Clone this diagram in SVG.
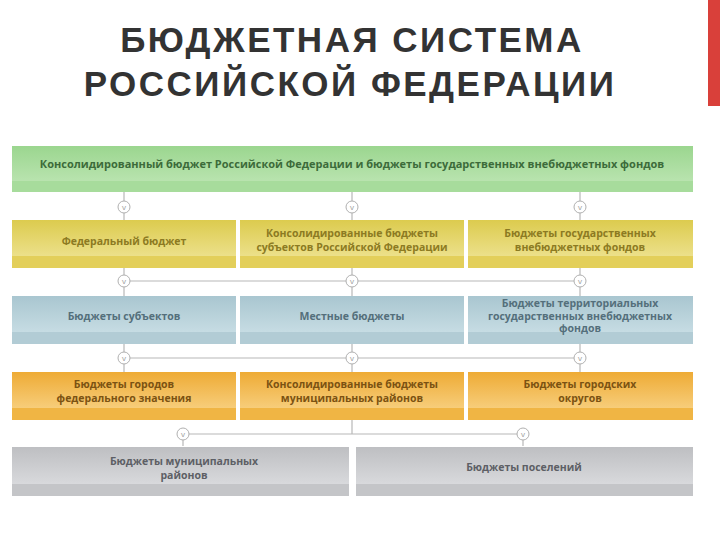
<svg xmlns="http://www.w3.org/2000/svg" width="720" height="540" viewBox="0 0 720 540">
<defs>
<linearGradient id="gG" x1="0" y1="0" x2="0" y2="1"><stop offset="0" stop-color="#9bd68f"/><stop offset="0.75" stop-color="#b8e3ae"/><stop offset="0.76" stop-color="#a7dc9c"/><stop offset="1" stop-color="#a7dc9c"/></linearGradient>
<linearGradient id="gY" x1="0" y1="0" x2="0" y2="1"><stop offset="0" stop-color="#dccb4e"/><stop offset="0.75" stop-color="#ece08a"/><stop offset="0.76" stop-color="#e3cf5a"/><stop offset="1" stop-color="#e3cf5a"/></linearGradient>
<linearGradient id="gB" x1="0" y1="0" x2="0" y2="1"><stop offset="0" stop-color="#a9c6d0"/><stop offset="0.75" stop-color="#c6dce3"/><stop offset="0.76" stop-color="#b2ccd5"/><stop offset="1" stop-color="#b2ccd5"/></linearGradient>
<linearGradient id="gO" x1="0" y1="0" x2="0" y2="1"><stop offset="0" stop-color="#eeab35"/><stop offset="0.75" stop-color="#f7cd7a"/><stop offset="0.76" stop-color="#f0b544"/><stop offset="1" stop-color="#f0b544"/></linearGradient>
<linearGradient id="gR" x1="0" y1="0" x2="0" y2="1"><stop offset="0" stop-color="#bebfc2"/><stop offset="0.75" stop-color="#d8d9dc"/><stop offset="0.76" stop-color="#c4c5c8"/><stop offset="1" stop-color="#c4c5c8"/></linearGradient>
</defs>
<style>
text{font-family:"Open Sans","DejaVu Sans",sans-serif;font-weight:bold;font-size:10.5px;text-anchor:middle}
.t{font-family:"Liberation Sans",Arial,sans-serif;font-size:35px;fill:#333;letter-spacing:2.5px}
.g{fill:#3c6b3a;font-size:11px}.y{fill:#8c7a22}.b{fill:#546f7b}.o{fill:#7b5212}.r{fill:#5d5f65}
.c{fill:#fff;stroke:#b0b0b0;stroke-width:1}
.ct{font-size:8px;fill:#999;font-weight:normal}
line{stroke:#b8b8b8;stroke-width:1.2}
</style>
<rect x="708" y="0" width="12" height="106" fill="#d9403a"/>
<text class="t" x="352" y="52">БЮДЖЕТНАЯ СИСТЕМА</text>
<text class="t" x="350" y="96">РОССИЙСКОЙ ФЕДЕРАЦИИ</text>
<g id="connectors">
<line x1="124" y1="192" x2="124" y2="220"/><line x1="352" y1="192" x2="352" y2="220"/><line x1="580" y1="192" x2="580" y2="220"/>
<line x1="124" y1="268" x2="124" y2="296"/><line x1="352" y1="268" x2="352" y2="296"/><line x1="580" y1="268" x2="580" y2="296"/><line x1="124" y1="281" x2="580" y2="281"/>
<line x1="124" y1="344" x2="124" y2="372"/><line x1="352" y1="344" x2="352" y2="372"/><line x1="580" y1="344" x2="580" y2="372"/><line x1="124" y1="358" x2="580" y2="358"/>
<line x1="352" y1="420" x2="352" y2="434"/><line x1="183" y1="434" x2="523" y2="434"/><line x1="183" y1="434" x2="183" y2="446"/><line x1="523" y1="434" x2="523" y2="446"/>
<g id="circles">
<circle class="c" cx="124" cy="207" r="6"/><circle class="c" cx="352" cy="207" r="6"/><circle class="c" cx="580" cy="207" r="6"/>
<circle class="c" cx="124" cy="281" r="6"/><circle class="c" cx="352" cy="281" r="6"/><circle class="c" cx="580" cy="281" r="6"/>
<circle class="c" cx="124" cy="358" r="6"/><circle class="c" cx="352" cy="358" r="6"/><circle class="c" cx="580" cy="358" r="6"/>
<circle class="c" cx="183" cy="434" r="6"/><circle class="c" cx="523" cy="434" r="6"/>
<text class="ct" x="124" y="210">v</text><text class="ct" x="352" y="210">v</text><text class="ct" x="580" y="210">v</text>
<text class="ct" x="124" y="284">v</text><text class="ct" x="352" y="284">v</text><text class="ct" x="580" y="284">v</text>
<text class="ct" x="124" y="361">v</text><text class="ct" x="352" y="361">v</text><text class="ct" x="580" y="361">v</text>
<text class="ct" x="183" y="437">v</text><text class="ct" x="523" y="437">v</text>
</g>
</g>
<g id="n0"><rect x="12" y="146" width="681" height="46" fill="url(#gG)"/><text class="g" x="352" y="168">Консолидированный бюджет Российской Федерации и бюджеты государственных внебюджетных фондов</text></g>
<g id="n1"><rect x="12" y="220" width="224" height="48" fill="url(#gY)"/><text class="y" x="124" y="245">Федеральный бюджет</text></g>
<g id="n2"><rect x="240" y="220" width="224" height="48" fill="url(#gY)"/><text class="y" x="352" y="237">Консолидированные бюджеты</text><text class="y" x="352" y="251">субъектов Российской Федерации</text></g>
<g id="n3"><rect x="468" y="220" width="225" height="48" fill="url(#gY)"/><text class="y" x="580" y="237">Бюджеты государственных</text><text class="y" x="580" y="251">внебюджетных фондов</text></g>
<g id="n4"><rect x="12" y="296" width="224" height="48" fill="url(#gB)"/><text class="b" x="124" y="320">Бюджеты субъектов</text></g>
<g id="n5"><rect x="240" y="296" width="224" height="48" fill="url(#gB)"/><text class="b" x="352" y="320">Местные бюджеты</text></g>
<g id="n6"><rect x="468" y="296" width="225" height="48" fill="url(#gB)"/><text class="b" x="580" y="307">Бюджеты территориальных</text><text class="b" x="580" y="319.5">государственных внебюджетных</text><text class="b" x="580" y="332">фондов</text></g>
<g id="n7"><rect x="12" y="372" width="224" height="48" fill="url(#gO)"/><text class="o" x="124" y="388">Бюджеты городов</text><text class="o" x="124" y="402">федерального значения</text></g>
<g id="n8"><rect x="240" y="372" width="224" height="48" fill="url(#gO)"/><text class="o" x="352" y="388">Консолидированные бюджеты</text><text class="o" x="352" y="402">муниципальных районов</text></g>
<g id="n9"><rect x="468" y="372" width="225" height="48" fill="url(#gO)"/><text class="o" x="580" y="388">Бюджеты городских</text><text class="o" x="580" y="402">округов</text></g>
<g id="n10"><rect x="12" y="447" width="337" height="49" fill="url(#gR)"/><text class="r" x="184" y="465">Бюджеты муниципальных</text><text class="r" x="184" y="479">районов</text></g>
<g id="n11"><rect x="356" y="447" width="337" height="49" fill="url(#gR)"/><text class="r" x="524" y="471">Бюджеты поселений</text></g>
</svg>
